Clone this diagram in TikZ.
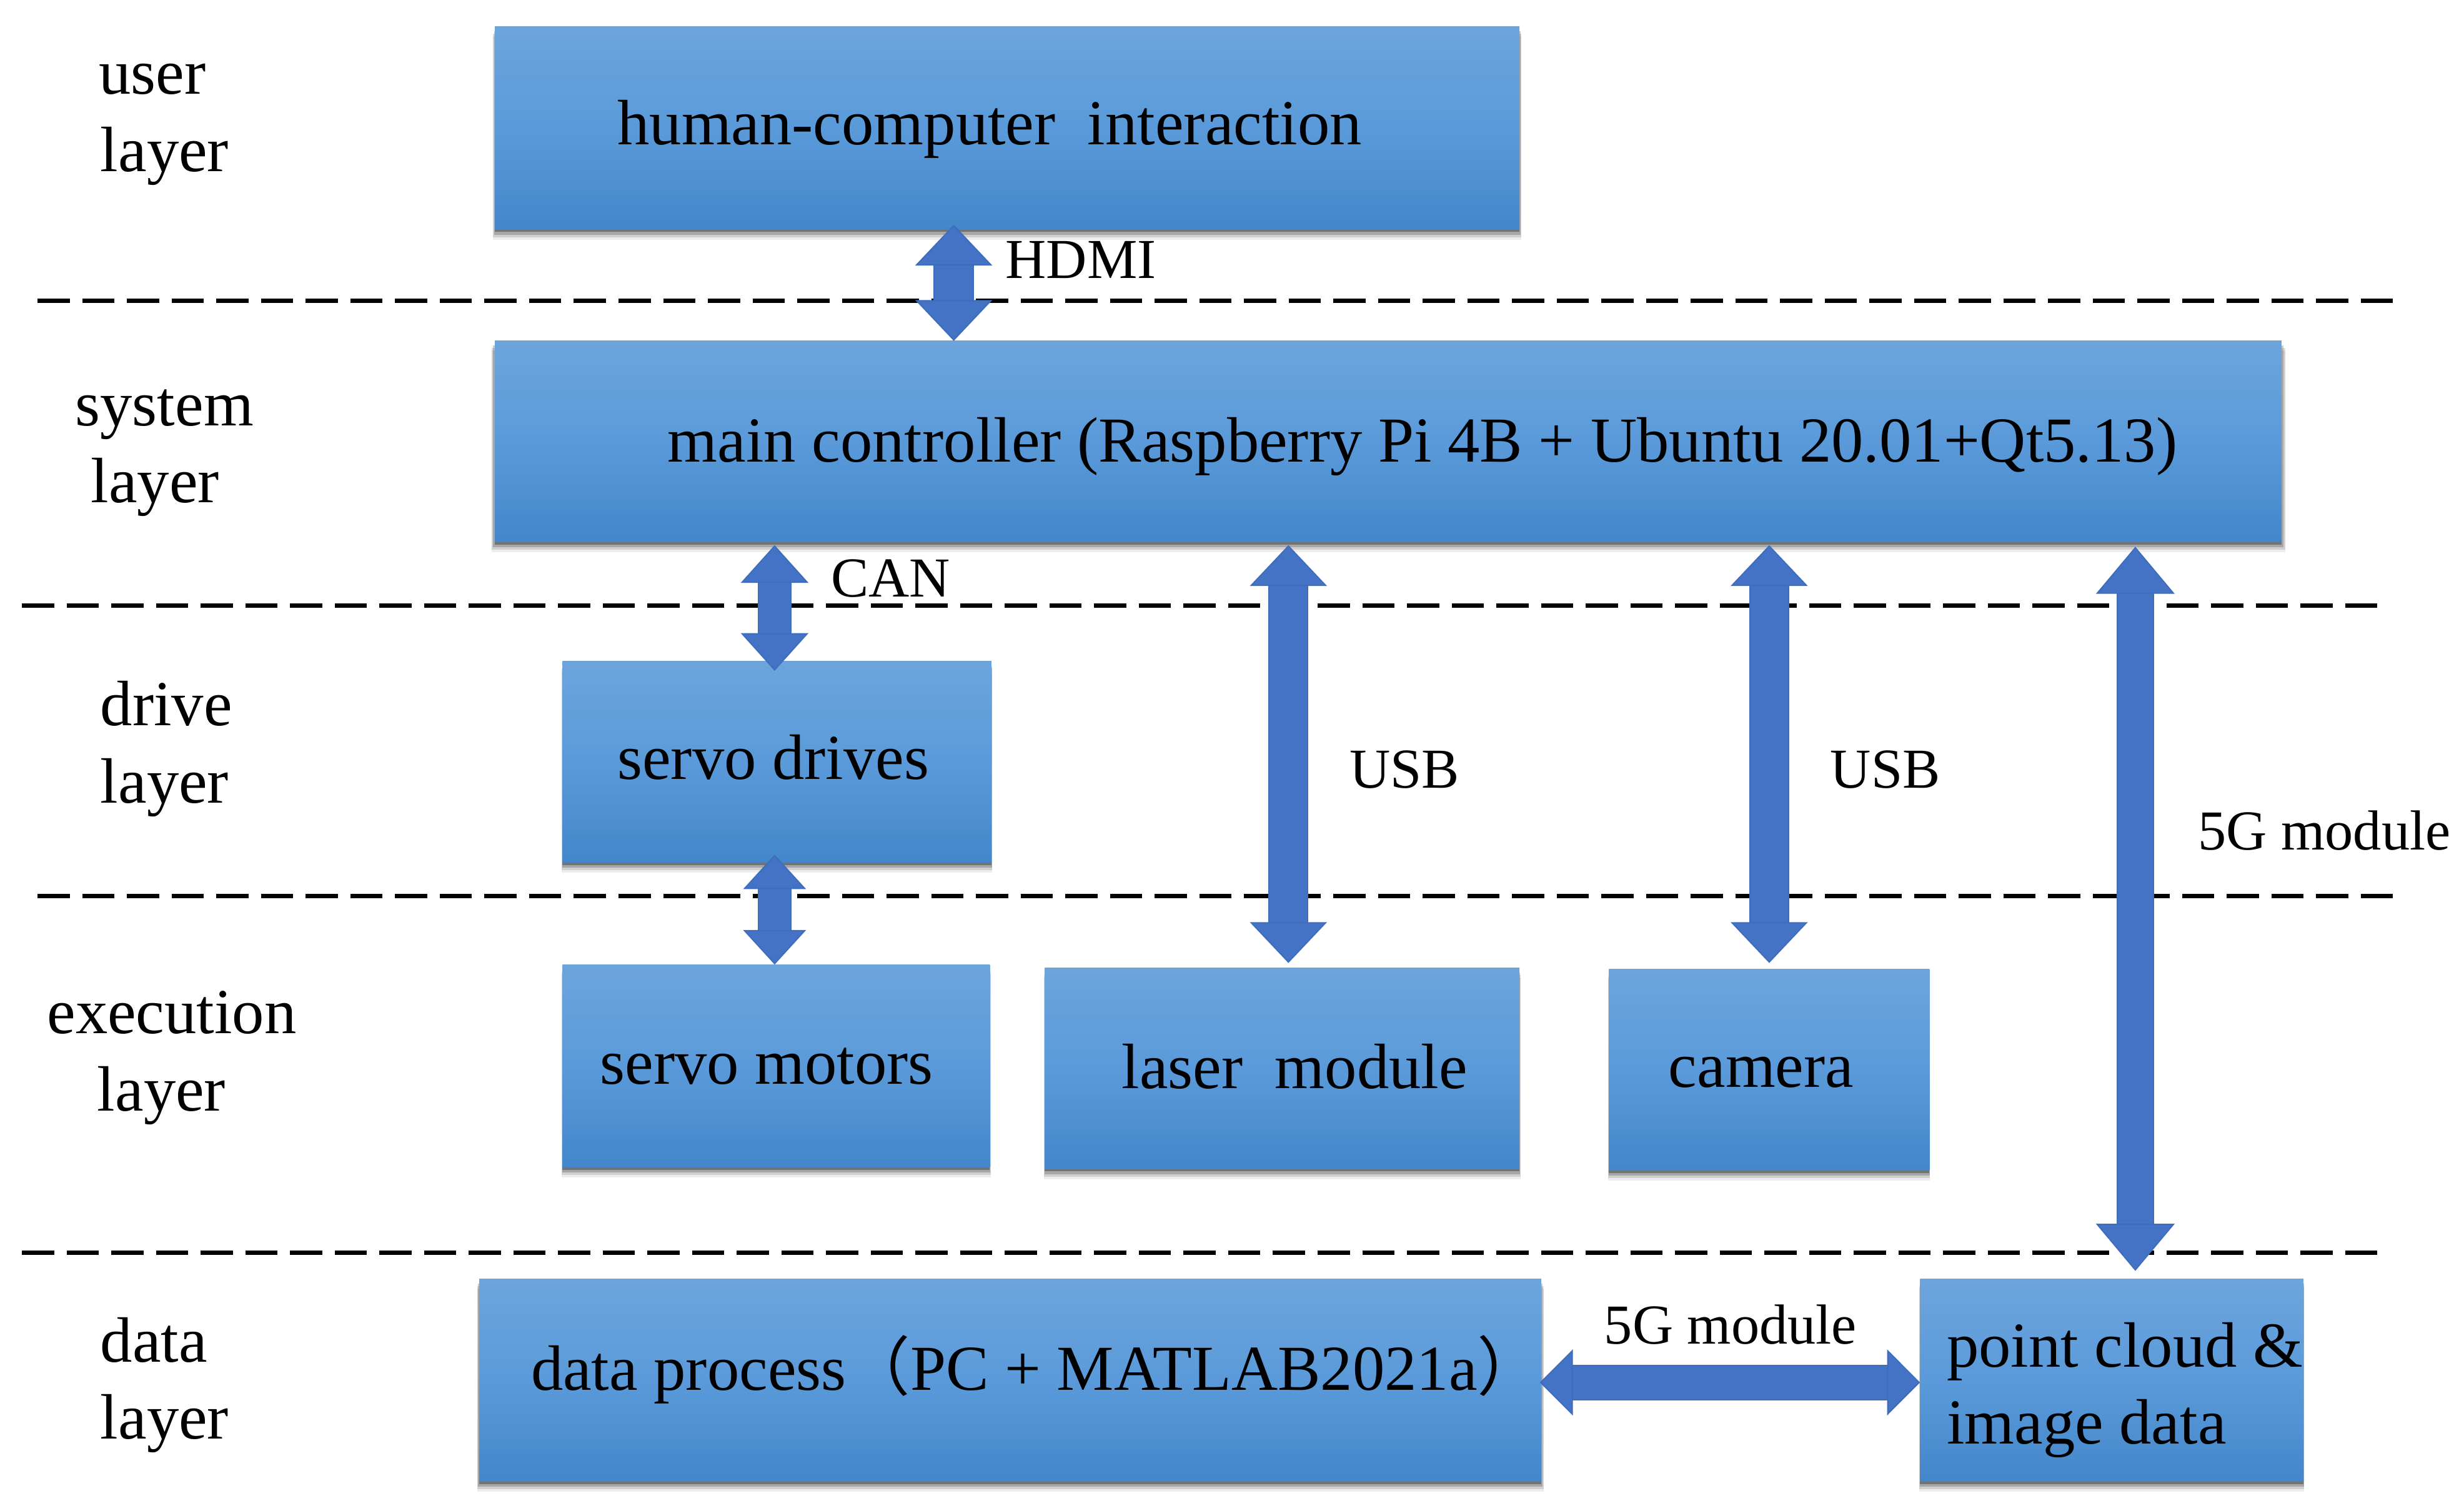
\documentclass[tikz,border=0pt]{standalone}
\usepackage{fontspec}
\setmainfont{Liberation Serif}
\newfontfamily\cjkf{Noto Sans CJK SC}
\usetikzlibrary{arrows.meta,shadows,calc}
\definecolor{boxtop}{HTML}{6DA4DC}
\definecolor{boxmid}{HTML}{5A9ADA}
\definecolor{boxbot}{HTML}{4387CA}
\definecolor{arrfill}{HTML}{4472C4}
\definecolor{arrline}{HTML}{3F6DBD}
\def\uu{0.02515}
\newcommand\fs[1]{\fontsize{#1}{#1}\selectfont}
\tikzset{
  x=0.02515cm,y=-0.02515cm,
  sep/.style={line width=0.07cm,black,dash pattern=on 0.515cm off 0.2cm},
  bx/.style={inner sep=0pt,outer sep=0pt,text height=0pt,text depth=0pt,
    top color=boxtop,bottom color=boxbot,middle color=boxmid,
    drop shadow={shadow xshift=0cm,shadow yshift=-0.16cm,shadow scale=1.004,opacity=.07,fill=black},
    drop shadow={shadow xshift=0cm,shadow yshift=-0.12cm,shadow scale=1.004,opacity=.12,fill=black},
    drop shadow={shadow xshift=0cm,shadow yshift=-0.08cm,shadow scale=1.002,opacity=.2,fill=black},
    drop shadow={shadow xshift=0cm,shadow yshift=-0.04cm,opacity=.3,fill=black}},
  lab/.style={inner sep=0pt,outer sep=0pt,text height=0pt,text depth=0pt,black},
}
% name, x1,y1,x2,y2, text x, text base y, size, text
\newcommand\bx[9]{%
  \pgfmathsetmacro\bw{(#4-#2)*\uu}%
  \pgfmathsetmacro\bh{(#5-#3)*\uu}%
  \pgfmathsetmacro\bdx{(#6-(#2+#4)/2)*\uu}%
  \pgfmathsetmacro\bdy{((#3+#5)/2-#7)*\uu}%
  \node[bx,minimum width=\bw cm,minimum height=\bh cm] (#1) at ({(#2+#4)/2},{(#3+#5)/2})
    {\rlap{\hspace*{\bdx cm}\raisebox{\bdy cm}{\fs{#8}#9}}};}
% name, x1, base1, x2, base2, size, line 1, line 2
\newcommand\twol[8]{%
  \pgfmathsetmacro\bdx{(#4-#2)*\uu}%
  \pgfmathsetmacro\bdy{(#3-#5)*\uu}%
  \node[lab] (#1) at (#2,#3) {\fs{#6}\rlap{#7}\rlap{\hspace*{\bdx cm}\raisebox{\bdy cm}{#8}}};}
% name, x, base, size, text
\newcommand\onel[5]{\node[lab] (#1) at (#2,#3) {\fs{#4}\rlap{#5}};}
% from, to, shaft, head width, head length
\newcommand\darr[5]{%
  \pgfmathsetmacro\ahw{#4*\uu}%
  \pgfmathsetmacro\ahl{#5*\uu}%
  \pgfmathsetmacro\asw{#3*\uu}%
  \draw[arrline,line width=0.02cm,double=arrfill,double distance=\asw cm,
    {Triangle[length=\ahl cm,width=\ahw cm,fill=arrfill]}-{Triangle[length=\ahl cm,width=\ahw cm,fill=arrfill]}]
    (#1) -- (#2);}
\begin{document}
\begin{tikzpicture}
\useasboundingbox (0,0) rectangle (1568.2,958.6);
\fill[white] (0,0) rectangle (1568.2,958.6);
% layer separators
\coordinate (s1a) at (24,191.5);  \coordinate (s1b) at (1525,191.5);
\coordinate (s2a) at (14,385.5);  \coordinate (s2b) at (1515,385.5);
\coordinate (s3a) at (24,570.5);  \coordinate (s3b) at (1525,570.5);
\coordinate (s4a) at (14,797.5);  \coordinate (s4b) at (1515,797.5);
\draw[sep] (s1a) -- (s1b);
\draw[sep] (s2a) -- (s2b);
\draw[sep] (s3a) -- (s3b);
\draw[sep] (s4a) -- (s4b);
% boxes
\bx{hci}{315}{17}{967}{146}{393}{92}{29.2}{human-computer\ \ interaction}
\bx{main}{315}{217}{1452}{345}{425}{294}{29.2}{main controller (Raspberry Pi 4B + Ubuntu 20.01+Qt5.13)}
\bx{drives}{358}{421}{631}{549}{393}{496}{29.2}{servo drives}
\bx{motors}{358}{614}{630}{743}{382}{690}{29.2}{servo motors}
\bx{laser}{665}{616}{967}{744}{714}{693}{29.2}{laser\ \ module}
\bx{camera}{1024}{617}{1228}{745}{1062}{692}{29.2}{camera}
\bx{data}{305}{814}{981}{943}{338}{885}{29.2}{data process{\cjkf （}PC + MATLAB2021a{\cjkf ）}}
\bx{cloud}{1222}{814}{1466}{943}{1239}{878}{29.2}{}
\twol{cloudt}{1239}{870}{1239}{919}{29.2}{point cloud \&}{image data}
% connectors
\coordinate (hdmiA) at (607,143); \coordinate (hdmiB) at (607,217);
\coordinate (canA) at (493,347);  \coordinate (canB) at (493,427);
\coordinate (smA) at (493,544);   \coordinate (smB) at (493,614);
\coordinate (u1A) at (820,347);   \coordinate (u1B) at (820,613);
\coordinate (u2A) at (1126,347);  \coordinate (u2B) at (1126,613);
\coordinate (g1A) at (1359,348);  \coordinate (g1B) at (1359,809);
\coordinate (g2A) at (980,880);   \coordinate (g2B) at (1222,880);
\darr{hdmiA}{hdmiB}{24}{49}{26}
\darr{canA}{canB}{20}{43}{24}
\darr{smA}{smB}{20}{40}{22}
\darr{u1A}{u1B}{24}{49}{26}
\darr{u2A}{u2B}{24}{49}{26}
\darr{g1A}{g1B}{22}{50}{30}
\darr{g2A}{g2B}{21}{42}{21}
% connector labels
\onel{lhdmi}{640}{177}{25.7}{HDMI}
\onel{lcan}{529}{380}{25.7}{CAN}
\onel{lusba}{859}{501.5}{25.7}{USB}
\onel{lusbb}{1165}{501.5}{25.7}{USB}
\onel{lgv}{1399}{541}{25.7}{5G module}
\onel{lgh}{1021}{855.5}{25.7}{5G module}
% layer labels
\twol{l1}{63}{60}{64}{109}{29.2}{user}{layer}
\twol{l2}{48}{271}{58}{320}{29.2}{system}{layer}
\twol{l3}{64}{462}{64}{511}{29.2}{drive}{layer}
\twol{l4}{30}{658}{62}{707}{29.2}{execution}{layer}
\twol{l5}{64}{867}{64}{916}{29.2}{data}{layer}
\end{tikzpicture}
\end{document}
